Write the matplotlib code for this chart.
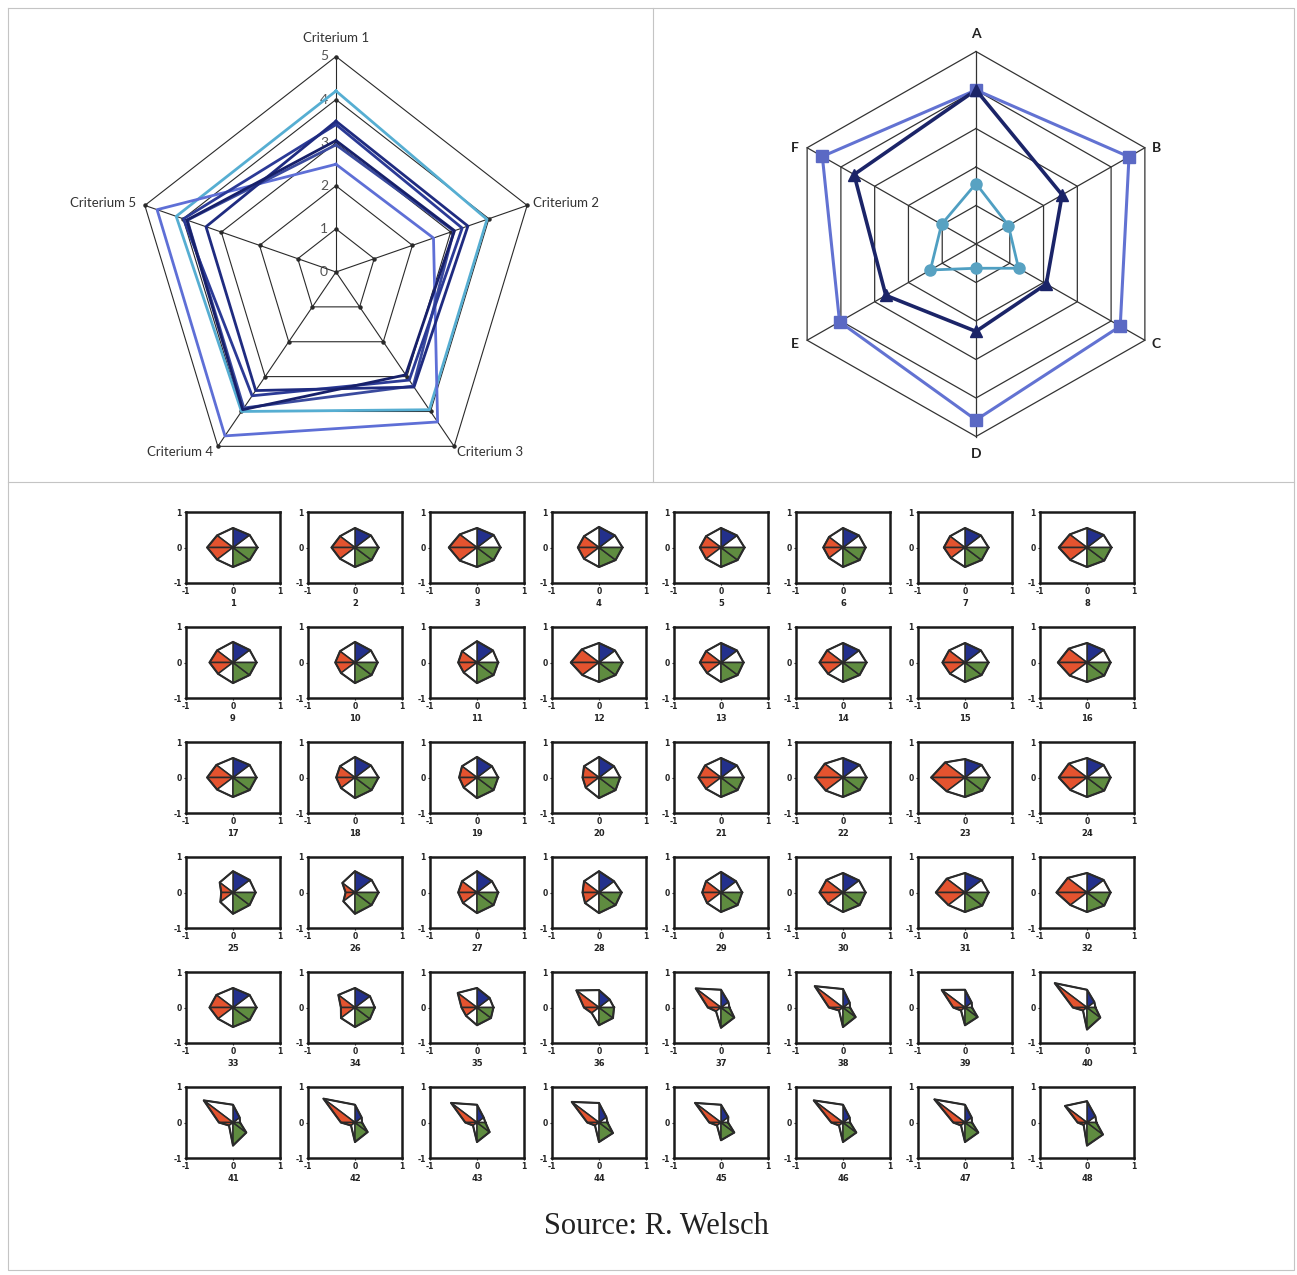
import matplotlib
matplotlib.use("Agg")
import matplotlib.pyplot as plt
import numpy as np
from matplotlib.patches import Polygon

plt.rcParams['axes.unicode_minus'] = False

W, H = 1297, 1275

# ---- pentagon radar: five criteria, six profiles ----
criteria = ["Criterium 1", "Criterium 2", "Criterium 3", "Criterium 4", "Criterium 5"]
crit_levels = [0, 1, 2, 3, 4, 5]
crit_teal = [4.2, 3.95, 3.95, 4.0, 4.18]
crit_periwinkle = [2.5, 2.55, 4.3, 4.7, 4.68]
crit_slate = [2.95, 3.08, 3.27, 3.9, 3.89]
crit_royal = [3.42, 3.3, 3.1, 3.55, 3.99]
crit_navy = [3.5, 3.45, 3.3, 3.4, 3.4]
crit_dark = [3.05, 3.1, 2.95, 3.95, 3.9]

# ---- hexagon radar: axes A..F, three profiles ----
hex_axes = ["A", "B", "C", "D", "E", "F"]
hex_rings = [1, 2, 3, 4, 5]
hex_squares = [4.0, 4.53, 4.27, 4.57, 4.04, 4.55]
hex_triangles = [4.0, 2.55, 2.08, 2.27, 2.67, 3.61]
hex_circles = [1.57, 0.96, 1.26, 0.63, 1.35, 1.02]

# ---- star glyphs 1..48, spoke lengths at 0, 45, ..., 315 degrees ----
r_east = [0.52, 0.5, 0.5, 0.5, 0.5, 0.48, 0.5, 0.52,
          0.5, 0.48, 0.45, 0.5, 0.48, 0.5, 0.5, 0.5,
          0.5, 0.5, 0.45, 0.45, 0.48, 0.5, 0.52, 0.5,
          0.48, 0.5, 0.45, 0.48, 0.45, 0.48, 0.5, 0.5,
          0.5, 0.42, 0.35, 0.32, 0.18, 0.15, 0.15, 0.18,
          0.15, 0.15, 0.18, 0.18, 0.15, 0.15, 0.15, 0.2]
r_ne = [0.5, 0.48, 0.5, 0.48, 0.48, 0.48, 0.48, 0.5,
        0.5, 0.48, 0.48, 0.48, 0.48, 0.48, 0.48, 0.5,
        0.5, 0.48, 0.45, 0.45, 0.48, 0.5, 0.5, 0.5,
        0.5, 0.5, 0.45, 0.45, 0.45, 0.48, 0.5, 0.5,
        0.5, 0.45, 0.38, 0.32, 0.22, 0.2, 0.2, 0.22,
        0.2, 0.2, 0.2, 0.22, 0.22, 0.2, 0.2, 0.25]
r_north = [0.55, 0.55, 0.55, 0.58, 0.55, 0.55, 0.55, 0.55,
           0.58, 0.58, 0.6, 0.55, 0.55, 0.55, 0.55, 0.55,
           0.55, 0.58, 0.58, 0.58, 0.55, 0.55, 0.52, 0.55,
           0.6, 0.6, 0.6, 0.6, 0.58, 0.55, 0.55, 0.55,
           0.55, 0.55, 0.55, 0.49, 0.5, 0.52, 0.5, 0.5,
           0.5, 0.5, 0.5, 0.55, 0.5, 0.5, 0.5, 0.6]
r_nw = [0.48, 0.45, 0.52, 0.45, 0.45, 0.42, 0.45, 0.52,
        0.48, 0.45, 0.45, 0.52, 0.45, 0.48, 0.48, 0.55,
        0.5, 0.45, 0.45, 0.45, 0.48, 0.55, 0.6, 0.55,
        0.4, 0.38, 0.45, 0.45, 0.45, 0.5, 0.55, 0.58,
        0.5, 0.5, 0.58, 0.68, 0.76, 0.85, 0.7, 0.97,
        0.88, 0.95, 0.78, 0.82, 0.78, 0.88, 0.92, 0.66]
r_west = [0.55, 0.5, 0.6, 0.45, 0.45, 0.42, 0.45, 0.6,
          0.5, 0.42, 0.4, 0.6, 0.45, 0.5, 0.48, 0.62,
          0.55, 0.4, 0.38, 0.35, 0.48, 0.6, 0.72, 0.6,
          0.25, 0.2, 0.4, 0.35, 0.4, 0.5, 0.62, 0.65,
          0.5, 0.3, 0.33, 0.32, 0.28, 0.3, 0.25, 0.3,
          0.3, 0.3, 0.25, 0.25, 0.25, 0.25, 0.25, 0.2]
r_sw = [0.48, 0.45, 0.52, 0.45, 0.45, 0.42, 0.42, 0.5,
        0.45, 0.42, 0.4, 0.5, 0.42, 0.45, 0.45, 0.52,
        0.48, 0.42, 0.4, 0.4, 0.45, 0.52, 0.55, 0.5,
        0.38, 0.35, 0.42, 0.42, 0.42, 0.45, 0.5, 0.5,
        0.45, 0.42, 0.33, 0.22, 0.15, 0.12, 0.12, 0.12,
        0.12, 0.12, 0.12, 0.12, 0.12, 0.12, 0.12, 0.1]
r_south = [0.55, 0.55, 0.55, 0.55, 0.55, 0.55, 0.55, 0.55,
           0.58, 0.58, 0.58, 0.55, 0.55, 0.55, 0.55, 0.55,
           0.55, 0.58, 0.58, 0.58, 0.55, 0.55, 0.55, 0.55,
           0.6, 0.6, 0.58, 0.58, 0.55, 0.55, 0.55, 0.55,
           0.55, 0.55, 0.5, 0.5, 0.57, 0.55, 0.5, 0.62,
           0.65, 0.55, 0.55, 0.55, 0.5, 0.55, 0.55, 0.65]
r_se = [0.5, 0.5, 0.5, 0.5, 0.5, 0.5, 0.5, 0.52,
        0.5, 0.5, 0.5, 0.5, 0.5, 0.5, 0.5, 0.52,
        0.5, 0.5, 0.5, 0.5, 0.5, 0.5, 0.52, 0.52,
        0.5, 0.5, 0.5, 0.5, 0.5, 0.5, 0.52, 0.52,
        0.5, 0.45, 0.42, 0.42, 0.4, 0.38, 0.38, 0.4,
        0.4, 0.38, 0.38, 0.42, 0.4, 0.4, 0.4, 0.48]

RED, BLUE, GREEN = "#e4532f", "#23308c", "#5f8c40"
sector_colors = ["white", BLUE, "white", RED, RED, "white", GREEN, GREEN]


def px_axes(fig, cx, cy, sx, sy, box):
    # axes placed in pixel space, centred on (cx, cy) with sx/sy pixels per unit
    left, top, right, bottom = box
    ax = fig.add_axes([left / W, 1 - bottom / H, (right - left) / W, (bottom - top) / H])
    ax.set_xlim((left - cx) / sx, (right - cx) / sx)
    ax.set_ylim((cy - bottom) / sy, (cy - top) / sy)
    ax.axis("off")
    return ax


def spoke_xy(values, n):
    theta = np.pi / 2 - 2 * np.pi * np.arange(n) / n
    v = np.asarray(values, dtype=float)
    return v * np.cos(theta), v * np.sin(theta)


def closed(a):
    return np.append(a, a[0])


fig = plt.figure(figsize=(W / 100, H / 100), dpi=100)

# table frame
frame = fig.add_axes([0, 0, 1, 1])
frame.set_xlim(0, W)
frame.set_ylim(H, 0)
frame.axis("off")
fc = "#c4c4c4"
frame.plot([8, 1294, 1294, 8, 8], [8, 8, 1270, 1270, 8], color=fc, lw=0.8)
frame.plot([653, 653], [8, 482], color=fc, lw=0.8)
frame.plot([8, 1294], [482, 482], color=fc, lw=0.8)

# ---------------- pentagon radar ----------------
ax1 = px_axes(fig, 336, 272, 40.2, 43.1, (20, 15, 645, 478))
n1 = len(criteria)
for lvl in crit_levels[1:]:
    gx, gy = spoke_xy([lvl] * n1, n1)
    ax1.plot(closed(gx), closed(gy), color="#2a2a2a", lw=0.8, zorder=1)
    ax1.plot(gx, gy, "o", ms=2.2, color="#2a2a2a", zorder=1)
ox, oy = spoke_xy([crit_levels[-1]] * n1, n1)
for x, y in zip(ox, oy):
    ax1.plot([0, x], [0, y], color="#2a2a2a", lw=0.8, zorder=1)
ax1.plot([0], [0], "o", ms=2.2, color="#2a2a2a")
for lvl in crit_levels:
    ax1.text(-0.2, lvl, str(lvl), ha="right", va="center", fontsize=10,
             color="#555555", family="Lato", zorder=0)

profiles = [
    (crit_teal, "#56aed2"),
    (crit_periwinkle, "#5e6fd6"),
    (crit_slate, "#3a4a9e"),
    (crit_royal, "#2b3a96"),
    (crit_navy, "#1f2b80"),
    (crit_dark, "#17206a"),
]
for vals, c in profiles:
    px, py = spoke_xy(vals, n1)
    ax1.plot(closed(px), closed(py), color=c, lw=2.0, zorder=3)

label_offsets = [((0, 18), "center"), ((6, 2), "left"), ((3, -6), "left"),
                 ((-5, -6), "right"), ((-9, 2), "right")]
for name, x, y, (off, ha) in zip(criteria, ox, oy, label_offsets):
    ax1.annotate(name, (x, y), xytext=off, textcoords="offset pixels",
                 ha=ha, va="center", fontsize=9.5, color="#333333", family="Lato")

# ---------------- hexagon radar ----------------
ax2 = px_axes(fig, 976, 244, 39.0, 38.5, (665, 15, 1290, 478))
n2 = len(hex_axes)
for lvl in hex_rings:
    gx, gy = spoke_xy([lvl] * n2, n2)
    ax2.plot(closed(gx), closed(gy), color="#333333", lw=0.9, zorder=1)
hx, hy = spoke_xy([hex_rings[-1]] * n2, n2)
for x, y in zip(hx, hy):
    ax2.plot([0, x], [0, y], color="#333333", lw=0.9, zorder=1)

sx_, sy_ = spoke_xy(hex_squares, n2)
ax2.plot(closed(sx_), closed(sy_), color="#6272d2", lw=2.2, zorder=3)
ax2.plot(sx_, sy_, "s", ms=8, color="#5b69c4", zorder=4)
tx_, ty_ = spoke_xy(hex_triangles, n2)
ax2.plot(closed(tx_), closed(ty_), color="#1b2468", lw=2.6, zorder=3)
ax2.plot(tx_, ty_, "^", ms=8.5, color="#1b2468", zorder=4)
cx_, cy_ = spoke_xy(hex_circles, n2)
ax2.plot(closed(cx_), closed(cy_), color="#4f9fc2", lw=2.0, zorder=3)
ax2.plot(cx_, cy_, "o", ms=8, color="#58a2c2", zorder=4)

hex_offsets = [((0, 18), "center"), ((7, 0), "left"), ((7, -4), "left"),
               ((0, -18), "center"), ((-8, -4), "right"), ((-8, 0), "right")]
for name, x, y, (off, ha) in zip(hex_axes, hx, hy, hex_offsets):
    ax2.annotate(name, (x, y), xytext=off, textcoords="offset pixels",
                 ha=ha, va="center", fontsize=10, fontweight="bold",
                 color="#222222", family="Lato")

# ---------------- star glyph grid ----------------
angles = np.deg2rad(np.arange(0, 360, 45))
for k in range(len(r_east)):
    col, row = k % 8, k // 8
    left = 186 + 122 * col
    top = 512 + 115 * row
    ax = fig.add_axes([left / W, 1 - (top + 71) / H, 94 / W, 71 / H])
    r = np.array([r_east[k], r_ne[k], r_north[k], r_nw[k],
                  r_west[k], r_sw[k], r_south[k], r_se[k]])
    xs, ys = r * np.cos(angles), r * np.sin(angles)
    for i in range(8):
        j = (i + 1) % 8
        ax.add_patch(Polygon([(0, 0), (xs[i], ys[i]), (xs[j], ys[j])],
                             closed=True, facecolor=sector_colors[i],
                             edgecolor="#2a2a2a", lw=1.1, joinstyle="round"))
    ax.plot(closed(xs), closed(ys), color="#2a2a2a", lw=1.5)
    ax.set_xlim(-1, 1)
    ax.set_ylim(-1, 1)
    ax.set_xticks([-1, 0, 1])
    ax.set_yticks([-1, 0, 1])
    ax.tick_params(labelsize=5.5, length=1.5, width=0.8, pad=1.5, colors="#222222")
    for lab in ax.get_xticklabels() + ax.get_yticklabels():
        lab.set_fontweight("bold")
    ax.set_xlabel(str(k + 1), fontsize=6, fontweight="bold", labelpad=2, color="#222222")
    for sp in ax.spines.values():
        sp.set_linewidth(1.8)
        sp.set_color("#1a1a1a")

fig.text(656 / W, 1 - 1227 / H, "Source: R. Welsch", ha="center", va="center",
         fontsize=22, family="Liberation Serif", color="#222222")

fig.savefig("out.png", dpi=100)
